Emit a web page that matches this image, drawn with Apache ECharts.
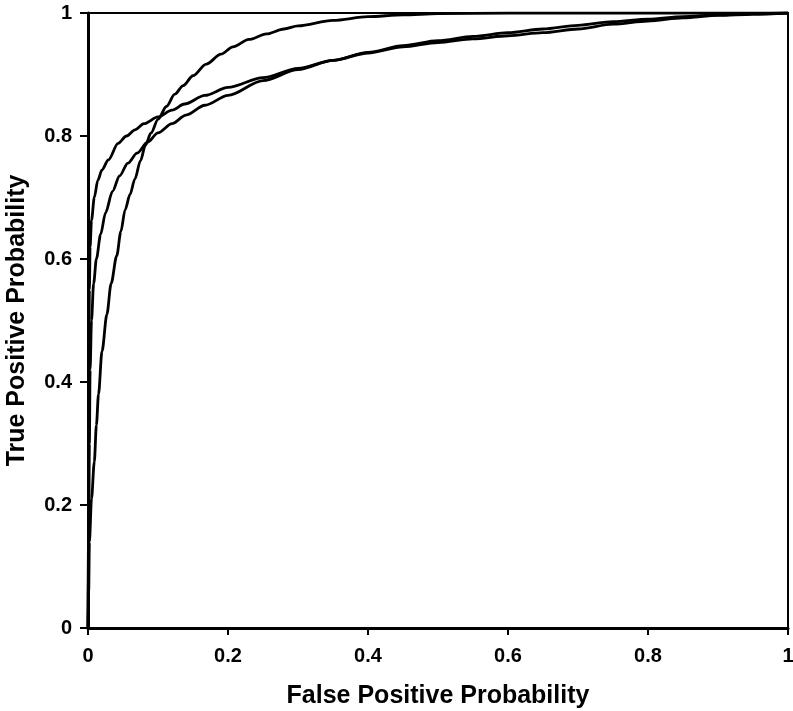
<!DOCTYPE html>
<html>
<head>
<meta charset="utf-8">
<script src="https://cdn.jsdelivr.net/npm/echarts@6/dist/echarts.min.js"></script>
<style>
html,body{margin:0;padding:0;background:#fff;}
#chart{width:793px;height:711px;}
</style>
</head>
<body>
<div id="chart"></div>
<script>
// Curve A (highest near x=0)
var fprA = [0,0.0005,0.001,0.002,0.003,0.005,0.009,0.014,0.02,0.029,0.043,0.055,0.067,0.08,0.1,0.12,0.138,0.167,0.2,0.25,0.3,0.35,0.4,0.45,0.5,0.55,0.6,0.65,0.7,0.75,0.8,0.85,0.9,0.95,1];
var tprA = [0,0.2,0.4,0.55,0.62,0.663,0.7,0.728,0.745,0.761,0.788,0.8,0.81,0.82,0.831,0.842,0.852,0.866,0.879,0.895,0.91,0.923,0.936,0.947,0.955,0.962,0.968,0.974,0.98,0.986,0.99,0.994,0.997,0.999,1];
// Curve B (middle)
var fprB = [0,0.001,0.002,0.003,0.005,0.008,0.012,0.018,0.025,0.035,0.045,0.057,0.07,0.085,0.1,0.12,0.14,0.167,0.2,0.25,0.3,0.35,0.4,0.45,0.5,0.55,0.6,0.65,0.7,0.75,0.8,0.85,0.9,0.95,1];
var tprB = [0,0.15,0.3,0.42,0.5,0.56,0.6,0.64,0.675,0.71,0.735,0.756,0.772,0.79,0.805,0.82,0.834,0.85,0.866,0.89,0.908,0.923,0.935,0.945,0.952,0.958,0.963,0.968,0.974,0.982,0.987,0.992,0.996,0.998,1];
// Curve C (steep, crosses the others)
var fprC = [0,0.001,0.002,0.005,0.009,0.012,0.015,0.02,0.027,0.033,0.041,0.047,0.053,0.06,0.067,0.075,0.082,0.09,0.1,0.112,0.124,0.136,0.15,0.169,0.19,0.207,0.23,0.255,0.28,0.3,0.35,0.4,0.45,0.5,0.6,1];
var tprC = [0,0.06,0.14,0.21,0.27,0.33,0.38,0.45,0.51,0.56,0.605,0.645,0.68,0.705,0.73,0.76,0.785,0.805,0.827,0.848,0.868,0.882,0.898,0.917,0.933,0.945,0.957,0.966,0.974,0.979,0.988,0.994,0.997,0.999,1,1];

var xTickLabels = ['0','0.2','0.4','0.6','0.8','1'];
var yTickLabels = ['0','0.2','0.4','0.6','0.8','1'];
var xTitle = 'False Positive Probability';
var yTitle = 'True Positive Probability';

function zip(xs, ys){ return xs.map(function(x,i){ return [x, ys[i]]; }); }
function lbl(arr){ return function(v){ var i = Math.round(v/0.2); return arr[i] !== undefined ? arr[i] : ''; }; }

var font = '"Liberation Sans", Arial, sans-serif';
var chart = echarts.init(document.getElementById('chart'), null, {renderer:'canvas'});
var lineStyle = {color:'#000', width:2.8};
function ser(d){ return {type:'line', data:d, showSymbol:false, symbol:'none', smooth:0.3, smoothMonotone:'x', lineStyle:lineStyle, silent:true, z:3}; }

chart.setOption({
  animation:false,
  backgroundColor:'#fff',
  grid:{left:88, right:5, top:13, bottom:83, containLabel:false, outerBoundsMode:'none', show:true, borderColor:'#000', borderWidth:2, backgroundColor:'transparent'},
  xAxis:{
    type:'value', min:0, max:1, interval:0.2,
    name:xTitle, nameLocation:'middle', nameGap:56,
    nameTextStyle:{fontFamily:font, fontWeight:'bold', fontSize:25, color:'#000'},
    axisLine:{show:true, onZero:false, lineStyle:{color:'#000', width:3}},
    axisTick:{show:true, length:7, lineStyle:{color:'#000', width:2}},
    axisLabel:{formatter:lbl(xTickLabels), margin:18, fontFamily:font, fontWeight:'bold', fontSize:20, color:'#000'},
    splitLine:{show:false}
  },
  yAxis:{
    type:'value', min:0, max:1, interval:0.2,
    name:yTitle, nameLocation:'middle', nameGap:58,
    nameTextStyle:{fontFamily:font, fontWeight:'bold', fontSize:25, color:'#000'},
    axisLine:{show:true, onZero:false, lineStyle:{color:'#000', width:3}},
    axisTick:{show:true, length:8, lineStyle:{color:'#000', width:2}},
    axisLabel:{formatter:lbl(yTickLabels), margin:16, fontFamily:font, fontWeight:'bold', fontSize:20, color:'#000'},
    splitLine:{show:false}
  },
  series:[ser(zip(fprA,tprA)), ser(zip(fprB,tprB)), ser(zip(fprC,tprC))]
});
</script>
</body>
</html>
